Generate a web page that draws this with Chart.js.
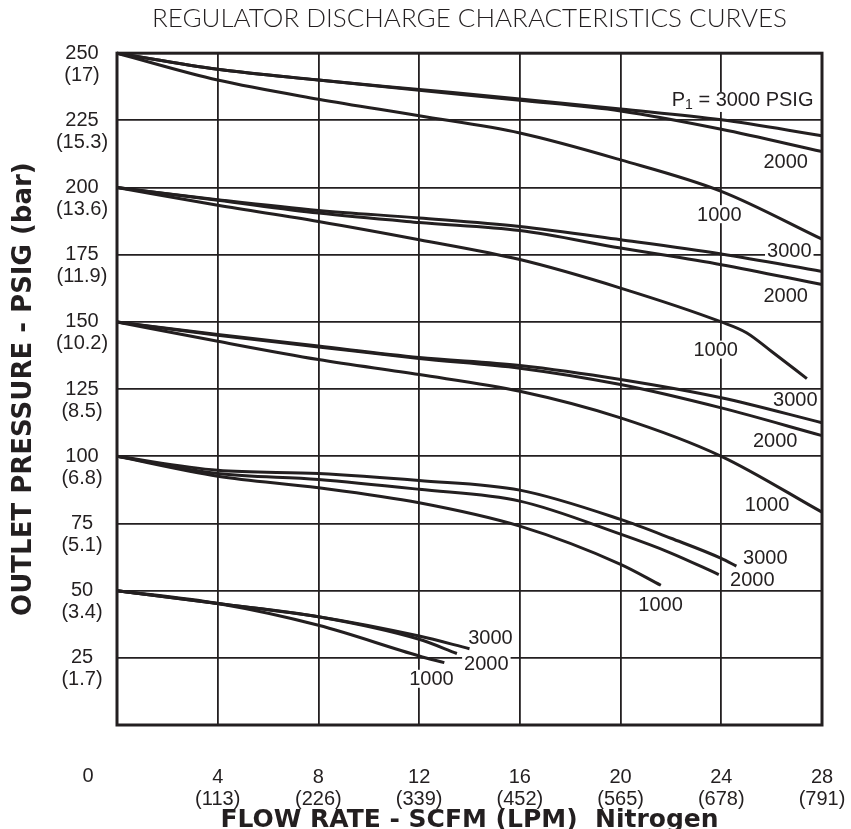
<!DOCTYPE html>
<html>
<head>
<meta charset="utf-8">
<title>Regulator discharge characteristics curves</title>
<script src="https://cdn.jsdelivr.net/npm/chart.js@4.4.1/dist/chart.umd.min.js"></script>
<style>
  body { margin: 0; background: #fff; }
</style>
</head>
<body>
<canvas id="myChart" width="851" height="829"></canvas>
<script>
// axis ticks
const flowTicks = [0, 4, 8, 12, 16, 20, 24, 28];
const lpmTicks = ['', '113', '226', '339', '452', '565', '678', '791'];
const psigTicks = [25, 50, 75, 100, 125, 150, 175, 200, 225, 250];
const barTicks = ['1.7', '3.4', '5.1', '6.8', '8.5', '10.2', '11.9', '13.6', '15.3', '17'];

// outlet set at 250 psig
const flow250 = [0, 4, 8, 12, 16, 20, 24, 28];
const p250_3000 = [250, 244, 240, 236.5, 233, 229.2, 225.2, 219.3];
const p250_2000 = [250, 244, 240, 236.2, 232.5, 228.5, 221.7, 213.4];
const p250_1000 = [250, 240, 232.9, 226.7, 220.3, 210.3, 198.6, 180.8];

// outlet set at 200 psig
const flow200 = [0, 4, 8, 12, 16, 20, 24, 28];
const p200_3000 = [200, 195.5, 191.5, 188.7, 185.5, 180.6, 175.3, 168.8];
const p200_2000 = [200, 195.3, 190.5, 187, 184, 177.5, 171.3, 163.9];
const flow200_1000 = [0, 4, 8, 12, 16, 20, 24, 25, 26, 27.4];
const p200_1000 = [200, 193.4, 187.4, 180.6, 173.2, 162.6, 150, 146, 139, 128.9];

// outlet set at 150 psig
const flow150 = [0, 4, 8, 12, 16, 20, 24, 28];
const p150_3000 = [150, 145.3, 141, 136.8, 133.8, 128.6, 121.8, 112.5];
const p150_2000 = [150, 145, 140.7, 136.4, 132.8, 126.7, 118, 107.7];
const p150_1000 = [150, 142.8, 136, 130.4, 124.2, 114.3, 100, 79.2];

// outlet set at 100 psig
const flow100_3000 = [0, 4, 8, 12, 16, 20, 22, 24, 24.6];
const p100_3000 = [100, 94.8, 93.6, 91, 87.4, 76.5, 69.5, 62, 59.1];
const flow100_2000 = [0, 4, 8, 12, 16, 20, 22, 23.9];
const p100_2000 = [100, 93.6, 91.4, 87.7, 83.3, 71, 64, 56];
const flow100_1000 = [0, 4, 8, 12, 16, 20, 21.6];
const p100_1000 = [100, 92.6, 88.3, 82.7, 74, 59.8, 52];

// outlet set at 50 psig
const flow50_3000 = [0, 4, 8, 12, 14];
const p50_3000 = [50, 45.2, 40.3, 33.1, 28.4];
const flow50_2000 = [0, 4, 8, 12, 13.5];
const p50_2000 = [50, 45.2, 40.3, 31.9, 26.6];
const flow50_1000 = [0, 4, 8, 12, 13];
const p50_1000 = [50, 45.2, 37.1, 25.7, 23.2];

// inlet pressure labels next to the curves
const curveLabels = ['2000', '1000', '3000', '2000', '1000', '3000', '2000', '1000', '3000', '2000', '1000', '3000', '2000', '1000'];
const labelFlow = [26.56, 23.92, 26.7, 26.56, 23.78, 26.94, 26.14, 25.82, 25.75, 25.23, 21.59, 14.83, 14.67, 12.49];
const labelPsig = [209.6, 190.1, 176.7, 160, 139.7, 121.1, 105.7, 82, 62.2, 54.2, 45, 32.5, 23, 17.2];

const ink = '#231f20';
const labelFont = '20px "Liberation Sans", Arial, sans-serif';

function pts(xs, ys) {
  return xs.map((x, i) => ({ x: x, y: ys[i] }));
}

function curve(xs, ys) {
  return {
    data: pts(xs, ys),
    borderColor: ink,
    borderWidth: 3,
    pointRadius: 0,
    fill: false,
    cubicInterpolationMode: 'monotone',
    clip: false
  };
}

Chart.defaults.font.family = '"Liberation Sans", Arial, sans-serif';
Chart.defaults.color = ink;

// draws y tick labels, the shared 0, the curve labels and the frame
const annotations = {
  id: 'annotations',
  beforeDatasetsDraw(chart) {
    const ctx = chart.ctx;
    const xs = chart.scales.x, ys = chart.scales.y;
    ctx.save();
    ctx.font = labelFont;
    ctx.textAlign = 'center';
    ctx.textBaseline = 'middle';
    for (let i = 0; i < curveLabels.length; i++) {
      const px = xs.getPixelForValue(labelFlow[i]);
      const py = ys.getPixelForValue(labelPsig[i]);
      const w = ctx.measureText(curveLabels[i]).width;
      ctx.fillStyle = '#fff';
      ctx.fillRect(px - w / 2 - 2, py - 9, w + 4, 18);
      ctx.fillStyle = ink;
      ctx.fillText(curveLabels[i], px, py + 1);
    }
    // P1 = 3000 PSIG
    const lx = xs.getPixelForValue(24.97) - 74, ly = ys.getPixelForValue(232.6) + 1;
    ctx.textAlign = 'left';
    ctx.fillStyle = '#fff';
    ctx.fillRect(lx - 2, ly - 9, 152, 20);
    ctx.fillStyle = ink;
    ctx.fillText('P', lx, ly);
    let off = ctx.measureText('P').width;
    ctx.font = '14px "Liberation Sans", Arial, sans-serif';
    ctx.fillText('1', lx + off, ly + 4);
    off += ctx.measureText('1').width;
    ctx.font = labelFont;
    ctx.fillText(' = 3000 PSIG', lx + off, ly);
    ctx.restore();
  },
  afterDraw(chart) {
    const ctx = chart.ctx;
    const ys = chart.scales.y;
    const a = chart.chartArea;
    ctx.save();
    ctx.fillStyle = ink;
    ctx.font = labelFont;
    ctx.textAlign = 'center';
    ctx.textBaseline = 'middle';
    psigTicks.forEach((v, i) => {
      const py = ys.getPixelForValue(v);
      ctx.fillText(String(v), 82, py);
      ctx.fillText('(' + barTicks[i] + ')', 82, py + 22);
    });
    ctx.fillText('0', 88, 776);
    ctx.strokeStyle = ink;
    ctx.lineWidth = 3;
    ctx.strokeRect(a.left, a.top, a.right - a.left, a.bottom - a.top);
    ctx.restore();
  }
};

new Chart(document.getElementById('myChart'), {
  type: 'line',
  data: {
    datasets: [
      curve(flow250, p250_3000), curve(flow250, p250_2000), curve(flow250, p250_1000),
      curve(flow200, p200_3000), curve(flow200, p200_2000), curve(flow200_1000, p200_1000),
      curve(flow150, p150_3000), curve(flow150, p150_2000), curve(flow150, p150_1000),
      curve(flow100_3000, p100_3000), curve(flow100_2000, p100_2000), curve(flow100_1000, p100_1000),
      curve(flow50_3000, p50_3000), curve(flow50_2000, p50_2000), curve(flow50_1000, p50_1000)
    ]
  },
  options: {
    responsive: false,
    animation: false,
    devicePixelRatio: 1,
    layout: { padding: { left: 0, right: 29, top: 0, bottom: 0 } },
    plugins: {
      legend: { display: false },
      tooltip: { enabled: false },
      title: {
        display: true,
        fullSize: false,
        text: 'REGULATOR DISCHARGE CHARACTERISTICS CURVES',
        font: { family: 'Lato, sans-serif', size: 26, weight: '300' },
        color: ink,
        padding: { top: 3, bottom: 19 }
      }
    },
    scales: {
      x: {
        type: 'linear',
        min: 0,
        max: 28,
        afterBuildTicks(scale) {
          scale.ticks = flowTicks.map(v => ({ value: v }));
        },
        afterFit(scale) {
          scale.height = 104;
          scale.paddingLeft = 0;
          scale.paddingRight = 0;
        },
        grid: { color: ink, lineWidth: 1.8, drawTicks: false },
        border: { display: false },
        ticks: {
          padding: 41,
          font: { size: 20, lineHeight: 1.1 },
          maxRotation: 0,
          callback: (v, i) => (v === 0 ? '' : [String(v), '(' + lpmTicks[i] + ')'])
        },
        title: {
          display: true,
          text: 'FLOW RATE - SCFM (LPM)  Nitrogen',
          font: { family: '"DejaVu Sans", sans-serif', size: 25, weight: 'bold', lineHeight: 0.72 },
          color: ink,
          padding: { top: 0, bottom: 0 }
        }
      },
      y: {
        min: 0,
        max: 250,
        afterBuildTicks(scale) {
          scale.ticks = [0].concat(psigTicks).map(v => ({ value: v }));
        },
        afterFit(scale) { scale.width = 117; },
        grid: { color: ink, lineWidth: 1.8, drawTicks: false },
        border: { display: false },
        ticks: { display: false },
        title: {
          display: true,
          text: 'OUTLET PRESSURE - PSIG (bar)',
          font: { family: '"DejaVu Sans", sans-serif', size: 26, weight: 'bold' },
          color: ink,
          padding: { top: 9, bottom: 0 }
        }
      }
    }
  },
  plugins: [annotations]
});
</script>
</body>
</html>
